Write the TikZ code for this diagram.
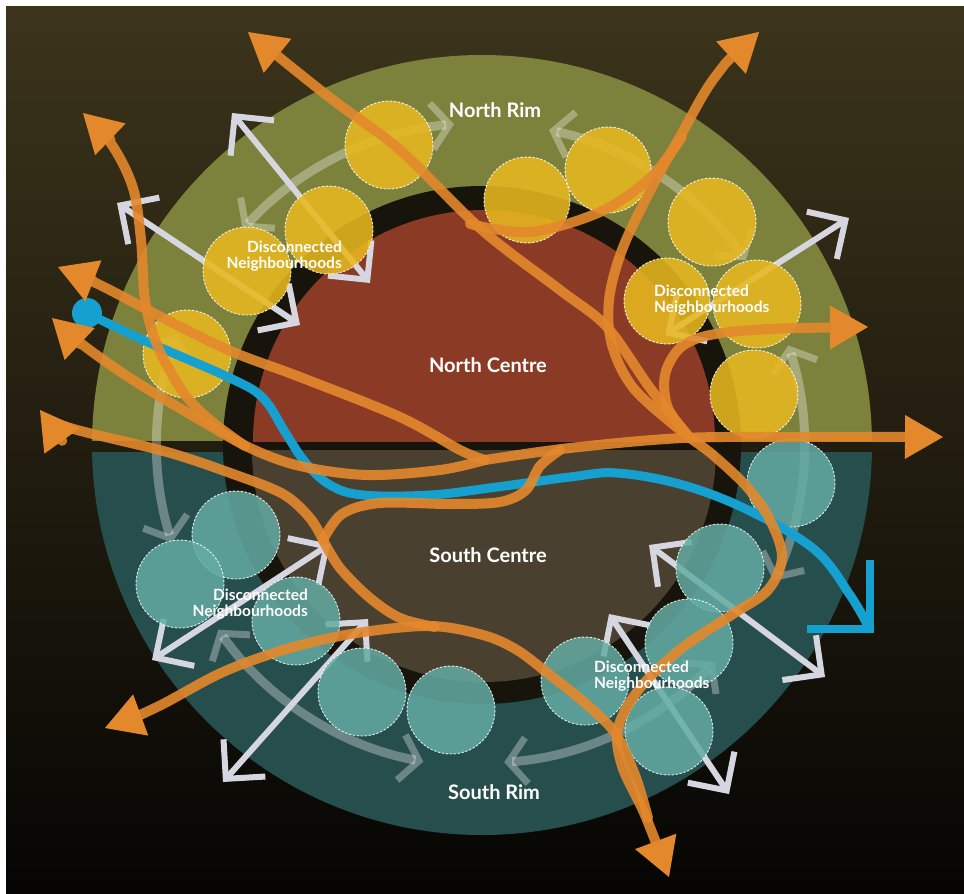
\documentclass[tikz,border=0pt]{standalone}
\usepackage{fontspec}
\setmainfont{Lato}
\usetikzlibrary{arrows.meta}
\definecolor{bgtop}{RGB}{60,52,27}
\definecolor{bgmid}{RGB}{27,24,13}
\definecolor{bgbot}{RGB}{6,5,3}
\definecolor{rimN}{RGB}{124,130,60}
\definecolor{rimS}{RGB}{38,78,76}
\definecolor{ctrN}{RGB}{139,58,38}
\definecolor{ctrS}{RGB}{74,64,48}
\definecolor{gapc}{RGB}{22,20,11}
\definecolor{yel}{RGB}{232,184,32}
\definecolor{tea}{RGB}{100,172,164}
\definecolor{org}{RGB}{228,136,44}
\definecolor{blu}{RGB}{22,160,208}
\definecolor{wht}{RGB}{214,214,224}
\tikzset{
  oline/.style={draw=org, draw opacity=0.9, line width=10pt, line cap=round, line join=round},
  ostart/.style={{Triangle[length=38pt,width=44pt,line width=0pt,sharp]}-},
  oend/.style={-{Triangle[length=38pt,width=44pt,line width=0pt,sharp]}},
  wline/.style={draw=wht, line width=6pt, {Straight Barb[length=28pt,width=56pt,line width=6pt]}-{Straight Barb[length=28pt,width=56pt,line width=6pt]}},
  farc/.style={draw=white, draw opacity=0.32, line width=9pt, {Straight Barb[length=18pt,width=46pt,line width=7pt]}-{Straight Barb[length=18pt,width=46pt,line width=7pt]}},
  nbY/.style={fill=yel, fill opacity=0.88, draw=white, draw opacity=0.85, line width=0.9pt, dash pattern=on 2.5pt off 1.5pt},
  nbT/.style={fill=tea, fill opacity=0.85, draw=white, draw opacity=0.85, line width=0.9pt, dash pattern=on 2.5pt off 1.5pt},
  bigtxt/.style={text=white, inner sep=0pt, font=\fontsize{20}{22}\selectfont\bfseries},
  dntxt/.style={text=white, inner sep=0pt, font=\fontsize{15.5}{16.5}\selectfont\bfseries}
}
\begin{document}
\begin{tikzpicture}[x=1pt,y=-1pt]
\useasboundingbox (0,0) rectangle (964,894);
\fill[white] (0,0) rectangle (964,894);
\shade[top color=bgtop, middle color=bgmid, bottom color=bgbot] (6,6) rectangle (964,894);
\coordinate (O) at (482,445);
% rims
\begin{scope}\clip (0,0) rectangle (964,440); \fill[rimN] (O) circle[radius=390]; \end{scope}
\begin{scope}\clip (0,452) rectangle (964,894); \fill[rimS] (O) circle[radius=390]; \end{scope}
\fill[gapc] (O) circle[radius=259];
\begin{scope}\clip (0,0) rectangle (964,441); \fill[ctrN] (484,441) circle[radius=231]; \end{scope}
\begin{scope}\clip (0,450) rectangle (964,894); \fill[ctrS] (484,450) circle[radius=232]; \end{scope}
% faint ring arrows
\draw[farc] ([shift={(-138:322)}]O) arc[start angle=-138, end angle=-95, radius=322];
\draw[farc] ([shift={(-78:322)}]O) arc[start angle=-78, end angle=-35, radius=322];
\draw[farc] ([shift={(-18:322)}]O) arc[start angle=-18, end angle=25, radius=322];
\draw[farc] ([shift={(43:318)}]O) arc[start angle=43, end angle=86, radius=318];
\draw[farc] ([shift={(145:322)}]O) arc[start angle=145, end angle=100.5, radius=322];
\draw[farc] ([shift={(200:325)}]O) arc[start angle=200, end angle=162.5, radius=325];
% white double arrows
\coordinate (w1a) at (232,113); \coordinate (w1b) at (370,283);
\coordinate (w2a) at (117,203); \coordinate (w2b) at (300,325);
\coordinate (w3a) at (665,335); \coordinate (w3b) at (849,218);
\coordinate (w4a) at (152,660); \coordinate (w4b) at (330,544);
\coordinate (w5a) at (223,782); \coordinate (w5b) at (368,619);
\coordinate (w6a) at (649,545); \coordinate (w6b) at (825,677);
\coordinate (w7a) at (609,614); \coordinate (w7b) at (729,794);
\draw[wline] (w1a) -- (w1b);
\draw[wline] (w2a) -- (w2b);
\draw[wline] (w3a) -- (w3b);
\draw[wline] (w4a) -- (w4b);
\draw[wline] (w5a) -- (w5b);
\draw[wline] (w6a) -- (w6b);
\draw[wline] (w7a) -- (w7b);
% neighbourhoods north
\path[nbY] (389,145) circle[radius=44];
\path[nbY] (329,230) circle[radius=44];
\path[nbY] (247,271) circle[radius=44];
\path[nbY] (187,354) circle[radius=44];
\path[nbY] (527,200) circle[radius=43];
\path[nbY] (608,170) circle[radius=43];
\path[nbY] (712,222) circle[radius=44];
\path[nbY] (667,301) circle[radius=43];
\path[nbY] (757,304) circle[radius=44];
\path[nbY] (754,394) circle[radius=44];
% neighbourhoods south
\path[nbT] (791,483) circle[radius=44];
\path[nbT] (720,568) circle[radius=44];
\path[nbT] (689,643) circle[radius=44];
\path[nbT] (585,681) circle[radius=44];
\path[nbT] (669,731) circle[radius=44];
\path[nbT] (451,710) circle[radius=44];
\path[nbT] (362,692) circle[radius=44];
\path[nbT] (296,621) circle[radius=44];
\path[nbT] (236,535) circle[radius=44];
\path[nbT] (180,584) circle[radius=44];
% blue line
\coordinate (bstart) at (87,313);
\coordinate (bend) at (868,626);
\draw[blu, line width=9pt, line cap=round, line join=round] plot[smooth, tension=0.6] coordinates {(bstart) (143,340) (230,378) (263,398) (285,432) (305,462) (330,485) (363,495) (430,495) (497,487) (570,477) (617,473) (683,485) (750,511) (815,550) (850,595) (bend)};
\fill[blu] (bstart) circle[radius=15];
\draw[blu, line width=8pt, line join=miter] (870,560) -- (870,629) -- (807,629);
% orange network
\coordinate (m1) at (690,438);
\coordinate (J1) at (485,460);
\coordinate (J2) at (323,540);
\draw[oline, ostart] plot[smooth, tension=0.55] coordinates {(248,32) (333,100) (400,150) (482,230) (560,290) (607,327) (650,388) (m1)};
\draw[oline, ostart] plot[smooth, tension=0.55] coordinates {(759,32) (715,77) (682,133) (649,193) (622,250) (609,300) (612,345) (635,390) (m1)};
\draw[oline] plot[smooth, tension=0.55] coordinates {(470,224) (530,232) (600,212) (650,178) (682,137)};
\draw[oline, oend] plot[smooth, tension=0.55] coordinates {(m1) (668,408) (665,375) (680,348) (710,335) (770,329) (868,327)};
\draw[oline, oend] plot[smooth, tension=0.55] coordinates {(m1) (713,455) (747,487) (770,520) (782,557) (768,590) (733,614) (682,648) (640,688) (618,728) (622,766) (645,815) (669,877)};
\draw[oline, oend] plot[smooth, tension=0.55] coordinates {(J1) (570,448) (683,438) (800,437) (943,437)};
\draw[oline, ostart] plot[smooth, tension=0.55] coordinates {(83,113) (112,145) (133,188) (141,240) (145,300) (157,345) (183,392) (210,420) (245,446)};
\draw[oline, ostart] plot[smooth, tension=0.55] coordinates {(58,267) (100,285) (167,320) (233,352) (300,377) (400,417) (460,450) (J1)};
\draw[oline, ostart] plot[smooth, tension=0.55] coordinates {(52,318) (83,345) (133,380) (200,420) (250,448) (300,466) (367,475) (440,470) (J1)};
\draw[oline, ostart] plot[smooth, tension=0.55] coordinates {(40,410) (67,427) (167,452) (233,474) (283,494) (310,518) (J2)};
\draw[oline] plot[smooth, tension=0.55] coordinates {(J2) (342,514) (380,503) (450,504) (500,502) (526,490) (540,466) (560,450)};
\draw[oline] plot[smooth, tension=0.55] coordinates {(J2) (340,568) (370,598) (400,618) (435,627)};
\draw[oline, ostart] plot[smooth, tension=0.55] coordinates {(105,728) (157,707) (223,672) (290,648) (357,633) (430,626) (483,635) (517,650) (550,675) (585,703) (615,733) (635,775) (648,818)};
% labels
\node[bigtxt] (nrim) at (495,110) {North Rim};
\node[bigtxt] (ncen) at (488,365) {North Centre};
\node[bigtxt] (scen) at (488,555) {South Centre};
\node[bigtxt] (srim) at (494,792) {South Rim};
\node[dntxt, align=right, anchor=east] (dn1) at (342,256) {Disconnected\\Neighbourhoods};
\node[dntxt, align=left, anchor=west] (dn2) at (654,300) {Disconnected\\Neighbourhoods};
\node[dntxt, align=right, anchor=east] (dn3) at (308,604) {Disconnected\\Neighbourhoods};
\node[dntxt, align=left, anchor=west] (dn4) at (594,676) {Disconnected\\Neighbourhoods};
\end{tikzpicture}
\end{document}
